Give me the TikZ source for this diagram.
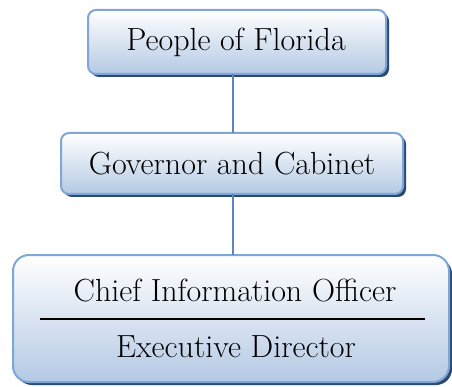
\documentclass[tikz,border=0pt]{standalone}
\usepackage{fontspec}
\usetikzlibrary{shadows}
\definecolor{boxborder}{HTML}{7EA6D6}
\definecolor{boxbottom}{HTML}{B4C9E4}
\definecolor{shadowblue}{HTML}{2B4A70}
\definecolor{linkblue}{HTML}{5A87C0}
\begin{document}
\begin{tikzpicture}[x=1pt,y=-1pt,
  orgbox/.style={draw=boxborder, line width=2pt, top color=white, bottom color=boxbottom,
    drop shadow={shadow xshift=3pt, shadow yshift=-3pt, fill=shadowblue, opacity=1},
    inner sep=0pt, outer sep=0pt},
  boxtext/.style={font=\fontsize{32}{38}\selectfont, inner sep=0pt},
  link/.style={draw=linkblue, line width=2pt}]
\useasboundingbox (0,0) rectangle (452,387);
\node[orgbox, rounded corners=8pt, minimum width=298pt, minimum height=64pt] (top) at (237,42) {};
\node[boxtext] (toptext) at (236,42) {People of Florida};
\node[orgbox, rounded corners=8pt, minimum width=342pt, minimum height=61pt] (mid) at (232,163.5) {};
\node[boxtext] (midtext) at (232,163.5) {Governor and Cabinet};
\node[orgbox, rounded corners=16pt, minimum width=436pt, minimum height=127pt] (bot) at (231,318.5) {};
\node[boxtext] (cio) at (235,291) {Chief Information Officer};
\node[boxtext] (ed) at (236,347) {Executive Director};
\coordinate (sl) at (40,319);
\coordinate (sr) at (425,319);
\draw[line width=1.5pt] (sl) -- (sr);
\coordinate (cx) at (233,0);
\draw[link] (top.south -| cx) -- (mid.north -| cx);
\draw[link] (mid.south -| cx) -- (bot.north -| cx);
\end{tikzpicture}
\end{document}
